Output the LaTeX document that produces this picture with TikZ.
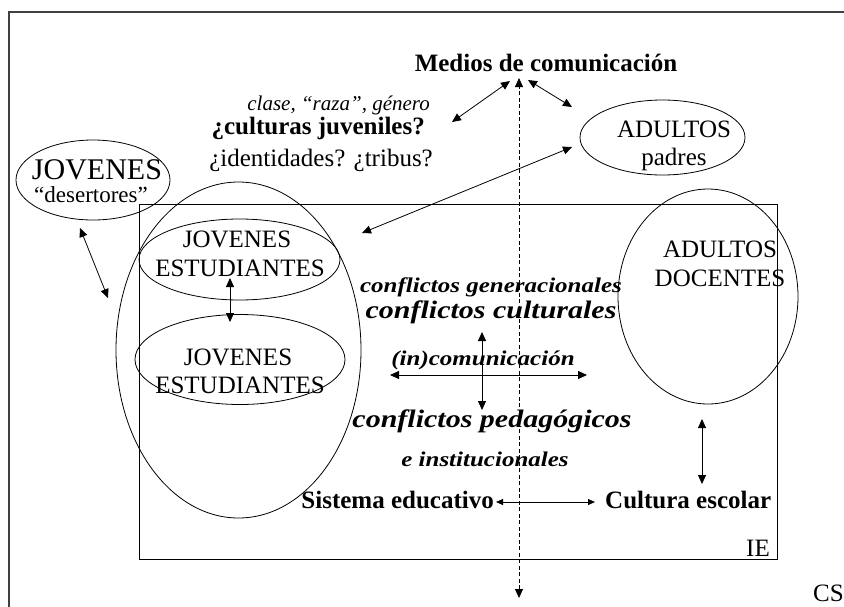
\documentclass[tikz,border=0pt]{standalone}
\usepackage{fontspec}
\usepackage{graphicx}
\setmainfont{Liberation Serif}
\usetikzlibrary{arrows.meta,shapes.geometric}
\newcommand{\ysq}[1]{\scalebox{1}[0.84]{#1}}
\begin{document}
\begin{tikzpicture}[x=1pt,y=-1pt,
  txt/.style={inner sep=0pt, anchor=base, font=\fontsize{25}{30}\selectfont},
  big/.style={font=\fontsize{30}{36}\selectfont},
  bi/.style={font=\fontsize{25}{30}\selectfont\bfseries\itshape},
  bibig/.style={font=\fontsize{30}{36}\selectfont\bfseries\itshape},
  bf/.style={font=\fontsize{25}{30}\selectfont\bfseries},
  ell/.style={draw, ellipse, line width=0.8pt, inner sep=0pt},
  arr/.style={line width=0.8pt, {Triangle[length=9pt,width=8pt]}-{Triangle[length=9pt,width=8pt]}},
  sarr/.style={line width=0.8pt, {Triangle[length=7pt,width=6pt]}-{Triangle[length=7pt,width=6pt]}},
  dsh/.style={line width=0.8pt, dash pattern=on 4pt off 2.5pt, {Triangle[length=9pt,width=8pt]}-{Triangle[length=9pt,width=8pt]}}
]
\useasboundingbox (0,0) rectangle (844,606);
% outer frame (cropped)
\draw[line width=1.4pt, draw=black!75] (9,640) -- (9,12) -- (870,12);
% IE rectangle
\node[draw, line width=0.8pt, minimum width=638pt, minimum height=355pt, inner sep=0pt, anchor=north west] (ie) at (139,204) {};

% ellipses
\node[ell, minimum width=154pt, minimum height=80pt] (desE) at (93,180) {};
\node[ell, minimum width=245pt, minimum height=336pt] (bigE) at (238.5,350) {};
\node[ell, minimum width=201pt, minimum height=81pt] (upE) at (239.5,259.5) {};
\node[ell, minimum width=210pt, minimum height=90pt] (loE) at (240,359.5) {};
\node[ell, minimum width=165pt, minimum height=75pt] (padE) at (662.5,137.5) {};
\node[ell, minimum width=180pt, minimum height=215pt] (docE) at (708,296.5) {};

% texts
\node[txt, bf] (medios) at (546,71) {Medios de comunicación};
\node[txt, anchor=base east, font=\fontsize{21}{25}\selectfont\itshape] (clase) at (430,110) {clase, “raza”, género};
\node[txt, bf, anchor=base east] (cult) at (425,134) {¿culturas juveniles?};
\node[txt, anchor=base east] (ident) at (433,166) {¿identidades? ¿tribus?};
\node[txt, big] (jd1) at (97,179) {JOVENES};
\node[txt, font=\fontsize{23}{27}\selectfont] (jd2) at (91,202) {“desertores”};
\node[txt] (ju1) at (237,247) {JOVENES};
\node[txt] (ju2) at (240,276) {ESTUDIANTES};
\node[txt] (jl1) at (238,365) {JOVENES};
\node[txt] (jl2) at (240,393) {ESTUDIANTES};
\node[txt] (ap1) at (674,137) {ADULTOS};
\node[txt] (ap2) at (674,165) {padres};
\node[txt] (ad1) at (720,257) {ADULTOS};
\node[txt] (ad2) at (720,286) {DOCENTES};
\node[txt, bi] (cgen) at (491,292) {\ysq{conflictos generacionales}};
\node[txt, bibig] (ccul) at (491,318) {\ysq{conflictos culturales}};
\node[txt, bi] (incom) at (483,365) {\ysq{(in)comunicación}};
\node[txt, bibig] (cped) at (492,427) {\ysq{conflictos pedagógicos}};
\node[txt, bi] (einst) at (485,466) {\ysq{e institucionales}};
\node[txt, bf, anchor=base east] (sist) at (494,508) {Sistema educativo};
\node[txt, bf, anchor=base west] (cesc) at (605,508) {Cultura escolar};
\node[txt, anchor=base east] (ielbl) at (770,556) {IE};
\node[txt, anchor=base east] (cs) at (844,601) {CS};

% arrow end points
\coordinate (m1) at (510,81);  \coordinate (c1) at (452,122);
\coordinate (m2) at (528,80);  \coordinate (p1) at (572,107);
\coordinate (p2) at (572,147); \coordinate (b1) at (362,233);
\coordinate (d1) at (80,228);  \coordinate (b2) at (108,298);
\coordinate (u1) at (230,278); \coordinate (l1) at (230,322);
\coordinate (h1) at (390,375); \coordinate (h2) at (587,375);
\coordinate (v1) at (482,332); \coordinate (v2) at (482,410);
\coordinate (dc1) at (702,419); \coordinate (dc2) at (702,484);
\coordinate (s1) at (496,502); \coordinate (s2) at (595,502);
\coordinate (dtop) at (519,78); \coordinate (dbot) at (519,598);

\draw[arr] (m1) -- (c1);
\draw[arr] (m2) -- (p1);
\draw[arr] (p2) -- (b1);
\draw[arr] (d1) -- (b2);
\draw[arr] (u1) -- (l1);
\draw[arr] (h1) -- (h2);
\draw[arr] (v1) -- (v2);
\draw[arr] (dc1) -- (dc2);
\draw[sarr] (s1) -- (s2);
\draw[dsh] (dbot) -- (dtop);
\end{tikzpicture}
\end{document}
